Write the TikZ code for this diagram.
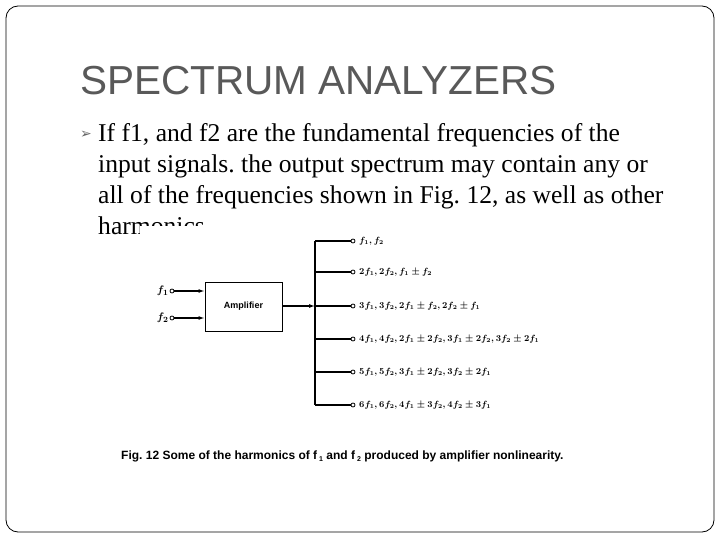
\documentclass[tikz,border=0pt]{standalone}
\usepackage{fontspec}
\setmainfont{Liberation Serif}
\newfontfamily\arial{Liberation Sans}
\newfontfamily\dejavu{DejaVu Sans}
\usetikzlibrary{arrows.meta}
\frenchspacing
\begin{document}
\begin{tikzpicture}[x=1pt,y=-1pt,
  term/.style={circle,draw,inner sep=0pt,minimum size=4pt,line width=0.8pt,fill=white},
  wire/.style={line width=1.1pt},
  lbl/.style={anchor=west,inner sep=0pt},
  body/.style={anchor=base west,inner sep=0pt,font=\fontsize{25.6}{30}\selectfont}]
\useasboundingbox (0,0) rectangle (720,540);
\draw[line width=0.8pt,rounded corners=12pt] (6,6) rectangle (714,532);
\node[anchor=base west,inner sep=0pt,text=black!65,font=\arial\fontsize{40.5}{44}\selectfont] (title) at (80,95) {SPECTRUM ANALYZERS};
\node[inner sep=0pt,text=black!60,font=\dejavu\fontsize{14}{14}\selectfont] (bul) at (86,135) {➢};
\node[body] (l1) at (98,142) {If f1, and f2 are the fundamental frequencies of the};
\node[body] (l2) at (98,173) {input signals. the output spectrum may contain any or};
\node[body] (l3) at (98,204) {all of the frequencies shown in Fig. 12, as well as other};
\node[body] (l4) at (98,235) {harmonics};
\fill[white] (140,226) rectangle (600,430);
% amplifier
\node[draw,line width=1pt,minimum width=77pt,minimum height=49pt,inner sep=0pt,font=\arial\bfseries\fontsize{9}{10}\selectfont] (amp) at (243.5,306.5) {Amplifier};
\node[term] (i1) at (172,291) {};
\node[term] (i2) at (172,318) {};
\node[anchor=east,inner sep=1pt,font=\fontsize{11}{12}\selectfont\boldmath] (if1) at (i1.west) {$f_1$};
\node[anchor=east,inner sep=1pt,font=\fontsize{11}{12}\selectfont\boldmath] (if2) at (i2.west) {$f_2$};
\draw[wire,-{Latex[length=6pt,width=4pt]}] (i1) -- (amp.west|-i1);
\draw[wire,-{Latex[length=6pt,width=4pt]}] (i2) -- (amp.west|-i2);
\coordinate (bt) at (315,241);
\coordinate (bb) at (315,405);
\coordinate (bm) at (315,306);
\draw[wire,-{Latex[length=6pt,width=4pt]}] (amp.east|-bm) -- (bm);
\draw[wire] (bt) -- (bb);
\foreach \y/\t [count=\i] in {241/{$f_1,f_2$},272/{$2f_1,2f_2,f_1\pm f_2$},306/{$3f_1,3f_2,2f_1\pm f_2,2f_2\pm f_1$},339/{$4f_1,4f_2,2f_1\pm 2f_2,3f_1\pm 2f_2,3f_2\pm 2f_1$},372/{$5f_1,5f_2,3f_1\pm 2f_2,3f_2\pm 2f_1$},405/{$6f_1,6f_2,4f_1\pm 3f_2,4f_2\pm 3f_1$}}{
  \coordinate (b\i) at (315,\y);
  \node[term] (o\i) at (353,\y) {};
  \draw[wire] (b\i) -- (o\i);
  \node[lbl,font=\fontsize{8.6}{9}\selectfont\boldmath] (t\i) at (359,\y) {\t};
}
\node[anchor=base west,inner sep=0pt,font=\arial\bfseries\fontsize{12}{14}\selectfont] (cap) at (121,459) {Fig. 12 Some of the harmonics of f\,{\fontsize{7}{7}\selectfont\raisebox{-2pt}{1}} and f\,{\fontsize{7}{7}\selectfont\raisebox{-2pt}{2}} produced by amplifier nonlinearity.};
\end{tikzpicture}
\end{document}
